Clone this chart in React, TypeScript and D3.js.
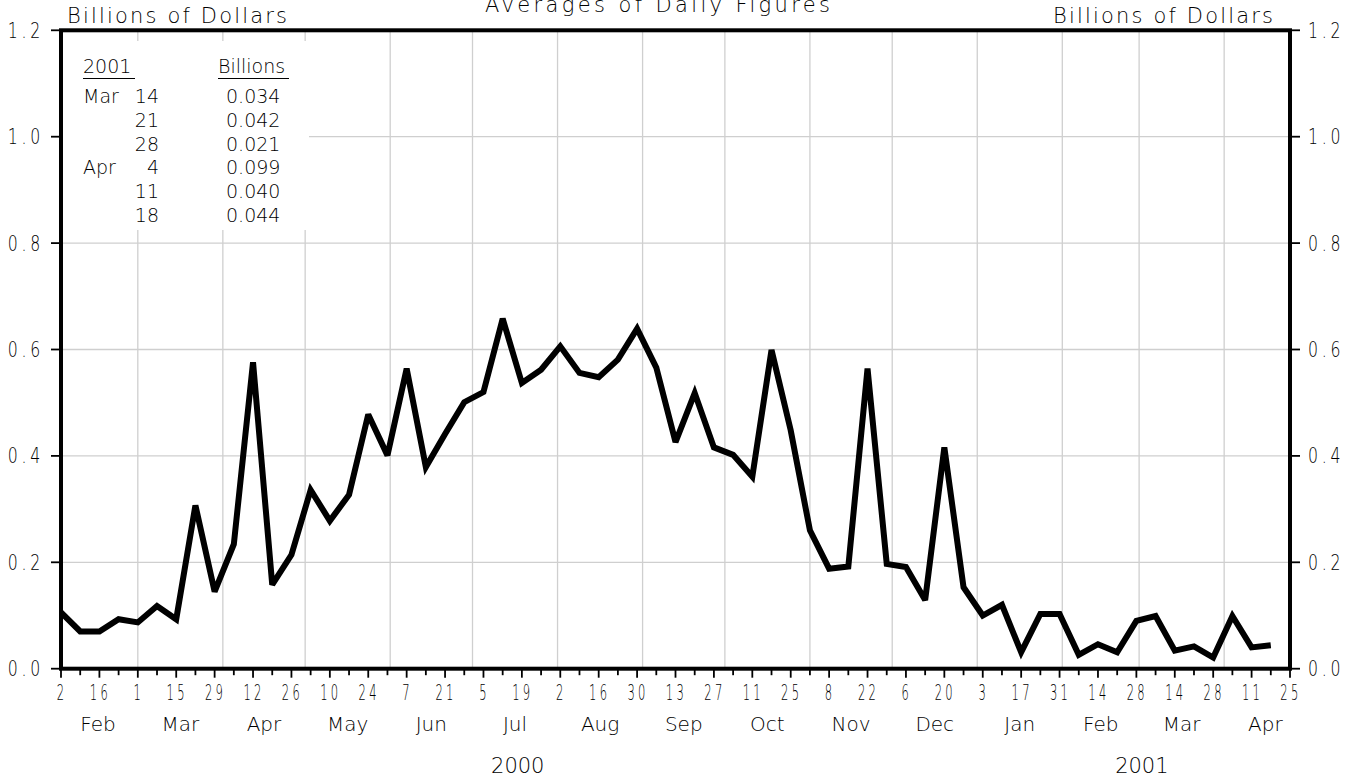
import React from "react";
import * as d3 from "d3";

// ---- Data ----
const firstWeek = "2000-02-02"; // weekly (Wednesday) observations
const values: number[] = [
  0.106, 0.070, 0.070, 0.093, 0.087, 0.118, 0.093, 0.307, 0.145, 0.234,
  0.576, 0.158, 0.214, 0.336, 0.278, 0.327, 0.478, 0.401, 0.564, 0.379,
  0.441, 0.501, 0.520, 0.658, 0.537, 0.562, 0.606, 0.556, 0.548, 0.581,
  0.639, 0.566, 0.426, 0.518, 0.416, 0.402, 0.361, 0.599, 0.448, 0.260,
  0.188, 0.192, 0.564, 0.197, 0.191, 0.129, 0.416, 0.153, 0.100, 0.120,
  0.031, 0.103, 0.103, 0.026, 0.046, 0.031, 0.090, 0.099, 0.034, 0.042,
  0.021, 0.099, 0.040, 0.044,
];
const axisStart = "2000-02-02";
const axisEnd = "2001-04-25";
const yTicks = [0, 0.2, 0.4, 0.6, 0.8, 1.0, 1.2];
const yearLabels = [
  { label: "2000", from: "2000-02-01", to: "2001-01-01" },
  { label: "2001", from: "2001-01-01", to: "2001-05-01" },
];
const legendMonths = ["Mar", "", "", "Apr", "", ""];
const legendDays = ["14", "21", "28", "4", "11", "18"];
const legendValues = ["0.034", "0.042", "0.021", "0.099", "0.040", "0.044"];
const titleText = "Averages of Daily Figures";
const unitText = "Billions of Dollars";

const W = 1356;
const H = 778;
const L = 61, R = 1290, T = 30.3, B = 668.7;

const parse = d3.utcParse("%Y-%m-%d");
const FONT = "'DejaVu Sans', 'Noto Sans', sans-serif";
const INK = "#000";

export default function App() {
  const x = d3.scaleUtc().domain([parse(axisStart)!, parse(axisEnd)!]).range([L, R]);
  const y = d3.scaleLinear().domain([0, 1.2]).range([B, T]);
  const start = parse(firstWeek)!;
  const pts = values.map((v, i) => ({ d: d3.utcWeek.offset(start, i), v }));
  const line = d3
    .line<{ d: Date; v: number }>()
    .x((p) => x(p.d))
    .y((p) => y(p.v));

  const allWeeks = d3.utcDay
    .range(parse(axisStart)!, d3.utcDay.offset(parse(axisEnd)!, 1))
    .filter((_, i) => i % 7 === 0);
  const monthStarts = d3.utcMonth.range(parse("2000-03-01")!, parse("2001-04-02")!);
  const monthsForLabels = d3.utcMonth.range(parse("2000-02-01")!, parse("2001-05-01")!);
  const fmtMonth = d3.utcFormat("%b");
  const fmtY = d3.format(".1f");

  return (
    <svg
      width={W}
      height={H}
      style={{ position: "absolute", left: 0, top: 0, background: "#fff" }}
    >
      {/* grid */}
      {monthStarts.map((m, i) => (
        <line key={"vg" + i} x1={x(m)} x2={x(m)} y1={T} y2={B} stroke="#cfcfcf" strokeWidth={1.3} />
      ))}
      {yTicks.slice(1, -1).map((t, i) => (
        <line key={"hg" + i} x1={L} x2={R} y1={y(t)} y2={y(t)} stroke="#cfcfcf" strokeWidth={1.3} />
      ))}

      {/* legend box */}
      <rect x={63} y={41} width={246} height={189} fill="#fff" />
      <g fontFamily={FONT} fontSize={19} fill={INK} fontWeight={200}>
        <text x={83} y={73}>2001</text>
        <line x1={83} x2={135} y1={78.5} y2={78.5} stroke={INK} strokeWidth={1.2} />
        <text x={218} y={73}>Billions</text>
        <line x1={218} x2={289} y1={78.5} y2={78.5} stroke={INK} strokeWidth={1.2} />
        {legendDays.map((d, i) => (
          <g key={"lg" + i}>
            <text x={83} y={103.3 + i * 23.7}>{legendMonths[i]}</text>
            <text x={159} y={103.3 + i * 23.7} textAnchor="end">{d}</text>
            <text x={226} y={103.3 + i * 23.7}>{legendValues[i]}</text>
          </g>
        ))}
      </g>

      {/* data line */}
      <path
        d={line(pts)!}
        fill="none"
        stroke="#000"
        strokeWidth={6}
        strokeLinejoin="miter"
        strokeMiterlimit={3}
      />

      {/* frame */}
      <rect x={L} y={T} width={R - L} height={B - T} fill="none" stroke="#000" strokeWidth={4} />

      {/* y ticks and labels */}
      {yTicks.map((t, i) => (
        <g key={"yt" + i}>
          <line x1={L - 10} x2={L} y1={y(t)} y2={y(t)} stroke="#000" strokeWidth={1.8} />
          <line x1={R} x2={R + 10} y1={y(t)} y2={y(t)} stroke="#000" strokeWidth={1.8} />
          <g transform={`translate(44,${y(t) + 7.5}) scale(0.75,1)`}>
            <text textAnchor="end" fontFamily={FONT} fontWeight={200} fontSize={21} letterSpacing={5} fill={INK}>
              {fmtY(t)}
            </text>
          </g>
          <g transform={`translate(1308,${y(t) + 7.5}) scale(0.75,1)`}>
            <text textAnchor="start" fontFamily={FONT} fontWeight={200} fontSize={21} letterSpacing={5} fill={INK}>
              {fmtY(t)}
            </text>
          </g>
        </g>
      ))}

      {/* x ticks */}
      {allWeeks.map((w, i) => (
        <g key={"xt" + i}>
          <line
            x1={x(w)}
            x2={x(w)}
            y1={B}
            y2={B + (i % 2 === 0 ? 9 : 6.5)}
            stroke="#000"
            strokeWidth={1.8}
          />
          {i % 2 === 0 && (
            <g transform={`translate(${x(w) + 1},700) scale(0.55,1)`}>
              <text
                textAnchor="middle"
                fontFamily={FONT}
                fontWeight={200}
                fontSize={21}
                letterSpacing={6}
                fill={INK}
              >
                {String(w.getUTCDate())}
              </text>
            </g>
          )}
        </g>
      ))}

      {/* month labels */}
      {monthsForLabels.map((m, i) => (
        <text
          key={"ml" + i}
          x={(x(m) + x(d3.utcMonth.offset(m, 1))) / 2}
          y={731}
          textAnchor="middle"
          fontFamily={FONT}
          fontWeight={200}
          fontSize={20}
          fill={INK}
        >
          {fmtMonth(m)}
        </text>
      ))}

      {/* year labels */}
      {yearLabels.map((yl, i) => (
        <text
          key={"yl" + i}
          x={(x(parse(yl.from)!) + x(parse(yl.to)!)) / 2}
          y={773}
          textAnchor="middle"
          fontFamily={FONT}
          fontWeight={200}
          fontSize={21}
          fill={INK}
        >
          {yl.label}
        </text>
      ))}

      {/* titles */}
      <text x={67} y={23} fontFamily={FONT} fontWeight={200} fontSize={21} fill={INK} textLength={220} lengthAdjust="spacing">
        {unitText}
      </text>
      <text x={1053} y={23} fontFamily={FONT} fontWeight={200} fontSize={21} fill={INK} textLength={220} lengthAdjust="spacing">
        {unitText}
      </text>
      <text x={485} y={12} fontFamily={FONT} fontWeight={200} fontSize={21} fill={INK} textLength={345} lengthAdjust="spacing">
        {titleText}
      </text>
    </svg>
  );
}
